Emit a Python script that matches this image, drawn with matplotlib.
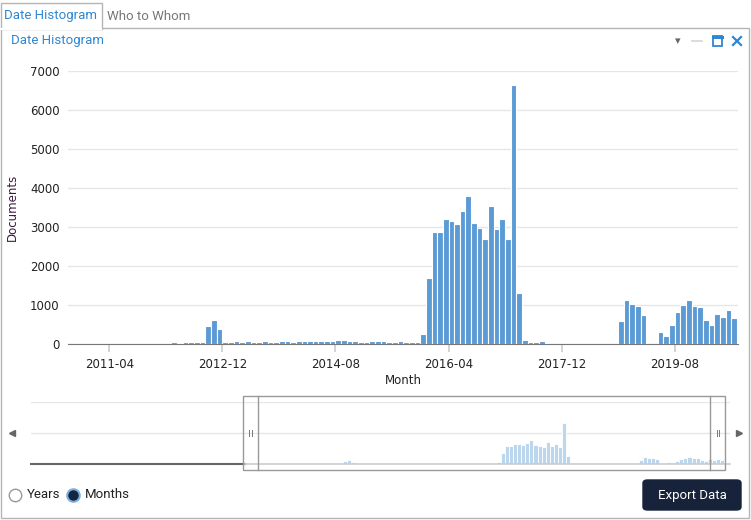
import numpy as np
import pandas as pd
import matplotlib.pyplot as plt
from matplotlib.patches import Rectangle, FancyBboxPatch
from matplotlib.lines import Line2D

# monthly document counts, 2012-03 .. 2020-06
first_month = "2012-03"
counts = [
    60, 30, 50, 50, 50, 60, 450, 610, 390, 50,                      # 2012
    50, 80, 60, 70, 60, 60, 70, 60, 60, 70, 80, 60,                  # 2013
    80, 70, 70, 80, 70, 80, 80, 110, 110, 85, 70, 60,                # 2014
    60, 70, 80, 70, 60, 60, 70, 60, 60, 60, 250, 1700,               # 2015
    2880, 2860, 3210, 3160, 3080, 3400, 3800, 3110, 2980, 2690, 3540, 2960,  # 2016
    3210, 2700, 6650, 1320, 90, 50, 45, 70, 20, 0, 0, 0,             # 2017
    0, 0, 0, 0, 0, 0, 0, 0, 0, 580, 1140, 1020,                      # 2018
    970, 750, 0, 0, 320, 200, 490, 830, 990, 1140, 980, 960,         # 2019
    610, 500, 780, 700, 880, 660,                                    # 2020
]
tick_labels = ["2011-04", "2012-12", "2014-08", "2016-04", "2017-12", "2019-08"]
y_ticks = [0, 1000, 2000, 3000, 4000, 5000, 6000, 7000]

BASE = pd.Period("2010-01", freq="M")


def month_index(label):
    return (pd.Period(label, freq="M") - BASE).n


months = month_index(first_month) + np.arange(len(counts))
tick_pos = [month_index(t) for t in tick_labels]

W, H = 751, 520
fig = plt.figure(figsize=(W / 100, H / 100), dpi=100)


def fx(x):
    return x / W


def fy(y):
    return 1 - y / H


def box(x0, y0, x1, y1):
    return [fx(x0), fy(y1), fx(x1) - fx(x0), fy(y0) - fy(y1)]


BLUE = "#2f87d3"
BAR = "#5b9bd5"
UI = "Roboto"

# ---- tabs and panel frame ----
fig.patches.append(Rectangle((fx(1), fy(518)), fx(748), fy(28) - fy(518),
                             transform=fig.transFigure, fill=False, ec="#b5b5b5", lw=1))
fig.patches.append(Rectangle((fx(0.5), fy(28.5)), fx(101), fy(3) - fy(28.5),
                             transform=fig.transFigure, fc="white", ec="#b5b5b5", lw=1))
fig.add_artist(Line2D([fx(1), fx(101)], [fy(28.5)] * 2, color="white", lw=1.5))
fig.text(fx(4), fy(16), "Date Histogram", color=BLUE, fontsize=9.5, family=UI, va="center")
fig.text(fx(107), fy(16), "Who to Whom", color="#777777", fontsize=9.5, family=UI, va="center")
fig.text(fx(11), fy(41), "Date Histogram", color=BLUE, fontsize=9.5, family=UI, va="center")

# window icons
fig.text(fx(678), fy(41), "\u25be", color="#666666", fontsize=8, ha="center", va="center")
fig.add_artist(Line2D([fx(692), fx(702)], [fy(41)] * 2, color="#d5d5d5", lw=1.2))
fig.patches.append(Rectangle((fx(712.5), fy(45.5)), fx(9), fy(36.5) - fy(45.5),
                             transform=fig.transFigure, fill=False, ec=BLUE, lw=1.3))
fig.add_artist(Line2D([fx(712.5), fx(721.5)], [fy(37)] * 2, color=BLUE, lw=2.2))
fig.add_artist(Line2D([fx(733), fx(741)], [fy(37), fy(45)], color=BLUE, lw=1.6))
fig.add_artist(Line2D([fx(733), fx(741)], [fy(45), fy(37)], color=BLUE, lw=1.6))

# ---- main histogram ----
ax = fig.add_axes(box(68, 71, 738, 344))
ax.bar(months, counts, width=1, align="edge", color=BAR, edgecolor="white", linewidth=0.8, zorder=3)
ax.set_xlim(7.7, 126.2)
ax.set_ylim(0, 7000)
ax.set_yticks(y_ticks)
ax.set_yticklabels([str(v) for v in y_ticks])
ax.set_xticks(tick_pos)
ax.set_xticklabels(tick_labels)
ax.grid(axis="y", color="#e6e6e6", lw=1, zorder=0)
for s in ["top", "right", "left"]:
    ax.spines[s].set_visible(False)
ax.spines["bottom"].set_color("#777777")
ax.spines["bottom"].set_zorder(4)
ax.tick_params(axis="y", length=0, pad=6, labelsize=8.5, labelcolor="#222222")
ax.tick_params(axis="x", length=6, color="#cccccc", width=1.2, pad=4, labelsize=8.5, labelcolor="#222222")
ax.set_xlabel("Month", fontsize=8.5, color="#222222")
ax.set_ylabel("Documents", fontsize=8.5, color="#3b1a3b", labelpad=8)
ax.xaxis.set_label_coords((403 - 68) / 670, -(30 - 0) / 273)

# ---- navigator ----
nav = fig.add_axes(box(31, 402, 730, 464))
nav.bar(months, counts, width=1, align="edge", color="#bcd6ee", edgecolor="white", linewidth=0.6, zorder=3)
nav.set_xlim(-45, 127.5)
nav.set_ylim(0, 10000)
nav.set_yticks([5000, 10000])
nav.set_xticks([])
nav.tick_params(axis="y", length=0, labelleft=False)
nav.grid(axis="y", color="#e6e6e6", lw=1, zorder=0)
for s in ["top", "right", "left"]:
    nav.spines[s].set_visible(False)
nav.spines["bottom"].set_visible(False)
nav.plot([-45, 7.7], [0, 0], color="#666666", lw=1.5, zorder=4, clip_on=False)
nav.plot([7.7, 127.5], [0, 0], color="#cccccc", lw=1.2, zorder=4, clip_on=False)

# selected window with handles
fig.patches.append(Rectangle((fx(243), fy(470)), fx(725) - fx(243), fy(396) - fy(470),
                             transform=fig.transFigure, fill=False, ec="#999999", lw=1))
for xl in (258, 710):
    fig.add_artist(Line2D([fx(xl)] * 2, [fy(396), fy(470)], color="#999999", lw=1))
for xg in (250.5, 717.5):
    for d in (-1, 1):
        fig.add_artist(Line2D([fx(xg + d)] * 2, [fy(430), fy(436)], color="#777777", lw=0.7))

# scroll arrows
fig.add_artist(Line2D([fx(12)], [fy(433)], marker="<", color="#666666", markersize=5, lw=0))
fig.add_artist(Line2D([fx(739)], [fy(433)], marker=">", color="#666666", markersize=5, lw=0))

# ---- radio buttons ----
fig.add_artist(Line2D([fx(15)], [fy(495)], marker="o", markersize=9, mfc="white", mec="#999999", mew=1, lw=0))
fig.text(fx(27), fy(495), "Years", fontsize=9.5, family=UI, color="#222222", va="center")
fig.add_artist(Line2D([fx(73)], [fy(495)], marker="o", markersize=9, mfc="#14263f", mec="#7aaee0", mew=1.5, lw=0))
fig.text(fx(85), fy(495), "Months", fontsize=9.5, family=UI, color="#222222", va="center")

# ---- export button ----
fig.patches.append(FancyBboxPatch((fx(643), fy(510)), fx(741) - fx(643), fy(480) - fy(510),
                                  boxstyle="round,pad=0,rounding_size=0.006",
                                  transform=fig.transFigure, fc="#16233a", ec="#16233a"))
fig.text(fx(692), fy(495), "Export Data", fontsize=9.5, family=UI, color="white", ha="center", va="center")

fig.savefig("out.png", dpi=100)
